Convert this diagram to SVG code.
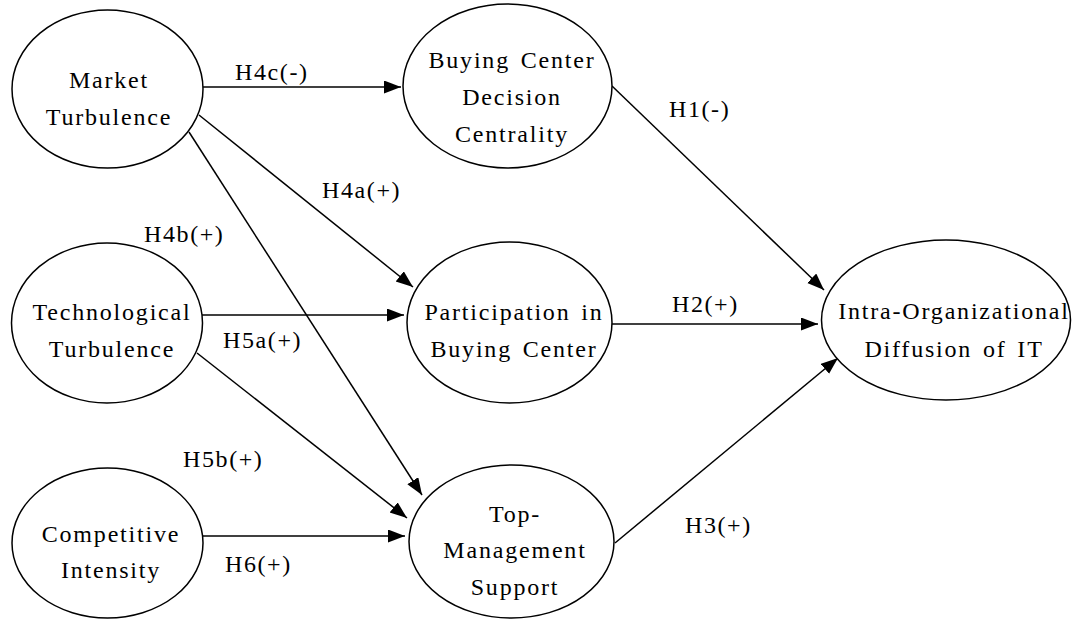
<svg xmlns="http://www.w3.org/2000/svg" width="1072" height="619" viewBox="0 0 1072 619">
<style>
.node ellipse{fill:#fff;stroke:#000;stroke-width:1.5}
.node text{font-family:"Liberation Serif",serif;font-size:24px;letter-spacing:1.8px;word-spacing:3px;text-anchor:middle;fill:#000}
.lbl{font-family:"Liberation Serif",serif;font-size:24px;letter-spacing:1.6px;fill:#000}
.edges line{stroke:#000;stroke-width:1.5;marker-end:url(#ah)}
</style>
<defs>
<marker id="ah" markerUnits="userSpaceOnUse" markerWidth="20" markerHeight="14" refX="17" refY="6.5" orient="auto">
<path d="M0,0 L17,6.5 L0,13 z" fill="#000"/>
</marker>
</defs>
<rect width="1072" height="619" fill="#fff"/>
<g class="edges">
<line x1="203" y1="87" x2="401" y2="87"/>
<line x1="199" y1="115" x2="413" y2="287"/>
<line x1="189" y1="132" x2="422" y2="495"/>
<line x1="202" y1="315" x2="404" y2="315"/>
<line x1="197" y1="353" x2="407" y2="518"/>
<line x1="203" y1="536" x2="405" y2="536"/>
<line x1="612" y1="86" x2="824" y2="290"/>
<line x1="612" y1="324" x2="818" y2="324"/>
<line x1="615" y1="543" x2="838" y2="358"/>
</g>
<g id="labels">
<text class="lbl" x="235" y="80">H4c(-)</text>
<text class="lbl" x="322" y="198">H4a(+)</text>
<text class="lbl" x="669" y="117">H1(-)</text>
<text class="lbl" x="144" y="242">H4b(+)</text>
<text class="lbl" x="223" y="348">H5a(+)</text>
<text class="lbl" x="672" y="312">H2(+)</text>
<text class="lbl" x="183" y="467">H5b(+)</text>
<text class="lbl" x="225" y="572">H6(+)</text>
<text class="lbl" x="685" y="533">H3(+)</text>
</g>
<g id="market" class="node">
<ellipse cx="107.5" cy="89" rx="95.5" ry="79"/>
<text x="109" y="88">Market</text>
<text x="109" y="125">Turbulence</text>
</g>
<g id="tech" class="node">
<ellipse cx="107" cy="323" rx="95.5" ry="80"/>
<text x="112" y="320">Technological</text>
<text x="112" y="357">Turbulence</text>
</g>
<g id="comp" class="node">
<ellipse cx="107.5" cy="543" rx="95.5" ry="75"/>
<text x="111" y="542">Competitive</text>
<text x="111" y="578">Intensity</text>
</g>
<g id="bcdc" class="node">
<ellipse cx="507.5" cy="86" rx="104.5" ry="82"/>
<text x="512" y="68">Buying Center</text>
<text x="512" y="105">Decision</text>
<text x="512" y="142">Centrality</text>
</g>
<g id="pbc" class="node">
<ellipse cx="509.5" cy="322.5" rx="102.5" ry="80.5"/>
<text x="514" y="320">Participation in</text>
<text x="514" y="357">Buying Center</text>
</g>
<g id="tms" class="node">
<ellipse cx="511.5" cy="541.5" rx="102.5" ry="76.5"/>
<text x="515" y="522">Top-</text>
<text x="515" y="558">Management</text>
<text x="515" y="595">Support</text>
</g>
<g id="iodit" class="node">
<ellipse cx="946" cy="320" rx="124.5" ry="80"/>
<text x="954" y="319">Intra-Organizational</text>
<text x="954" y="357">Diffusion of IT</text>
</g>
</svg>
